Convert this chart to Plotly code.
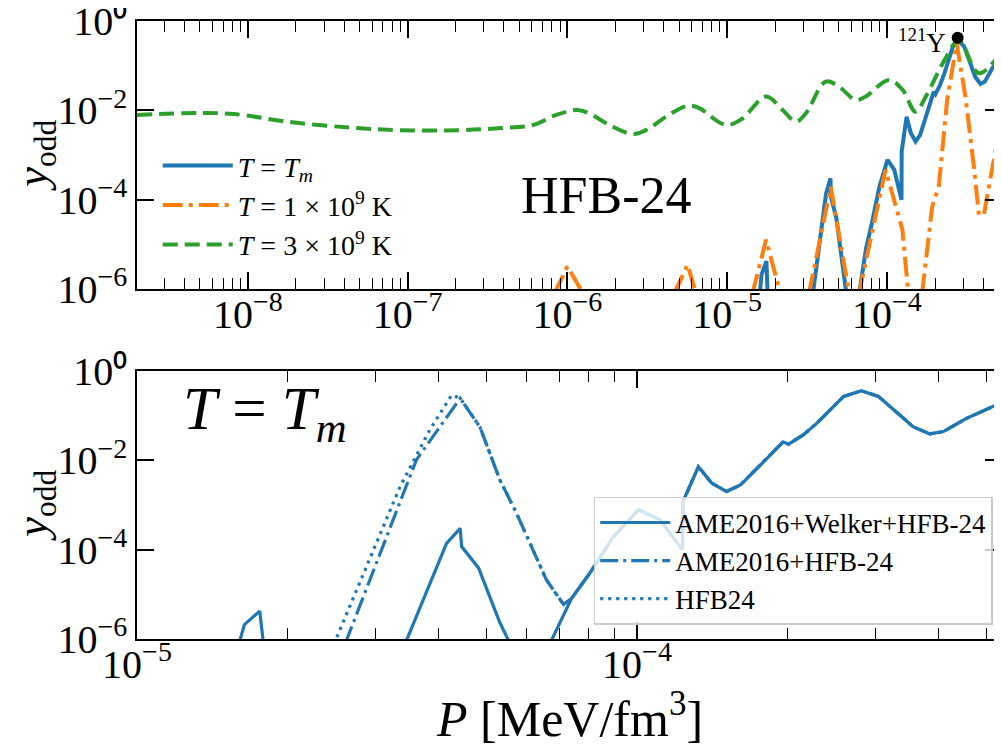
import plotly.graph_objects as go

# ---------------- data ----------------
# T = T_m  (AME2016+Welker+HFB-24), shared by both panels
P_tm = [1.60e-5, 1.64e-5, 1.76e-5, 1.79e-5, None,
        3.44e-5, 4.16e-5, 4.43e-5, 4.46e-5, 4.82e-5, 5.32e-5, 5.57e-5, None,
        6.70e-5, 7.40e-5, 8.05e-5, 8.97e-5, 1.007e-4, 1.11e-4, 1.233e-4, 1.236e-4,
        1.327e-4, 1.41e-4, 1.51e-4, 1.61e-4, 1.73e-4, 1.96e-4, 2.01e-4, 2.15e-4,
        2.29e-4, 2.59e-4, 2.81e-4, 3.04e-4, 3.57e-4, 3.85e-4, 4.10e-4, 4.56e-4, 5.24e-4]
Y_tm = [8e-7, 2.1e-6, 4.2e-6, 8e-7, None,
        8e-7, 1.38e-4, 3.0e-4, 1.17e-4, 3.9e-5, 2.3e-6, 8e-7, None,
        8e-7, 8.1e-6, 3.0e-5, 1.95e-4, 7.8e-4, 4.7e-4, 1.0e-4, 1.2e-3,
        7.2e-3, 3.1e-3, 2.0e-3, 2.8e-3, 6.2e-3, 2.6e-2, 2.3e-2, 3.7e-2,
        6.8e-2, 0.27, 0.36, 0.27, 5.6e-2, 3.9e-2, 4.4e-2, 8.7e-2, 0.174]

# T = 1e9 K
P_t1 = [8.3e-7, 1.0e-6, 1.25e-6, None,
        4.67e-6, 5.65e-6, 6.37e-6, None,
        1.44e-5, 1.75e-5, 2.07e-5, 2.3e-5, None,
        3.25e-5, 4.45e-5, 5.8e-5, None,
        6.68e-5, 9.8e-5, 1.25e-4, 1.36e-4, None,
        1.66e-4, 1.92e-4, 2.11e-4, 2.38e-4, 2.73e-4, 3.10e-4, 3.50e-4, 3.76e-4,
        4.04e-4, 4.79e-4, 5.13e-4]
Y_t1 = [8e-7, 3.2e-6, 8e-7, None,
        8e-7, 3.5e-6, 8e-7, None,
        8e-7, 1.26e-5, 1.35e-6, 5e-7, None,
        8e-7, 1.95e-4, 8e-7, None,
        8e-7, 4.7e-4, 2.1e-5, 8e-7, None,
        8e-7, 7.1e-5, 1.95e-4, 1.7e-2, 0.32, 2.0e-2, 5.5e-4, 4.6e-5,
        4.6e-5, 1.3e-3, 5.1e-3]

# T = 3e9 K
P_t3 = [2.02e-9, 5.0e-9, 8.1e-9, 1.82e-8, 4.4e-8, 8.9e-8, 2.11e-7, 3.76e-7,
        6.07e-7, 8.5e-7, 1.16e-6, 1.37e-6, 1.83e-6, 2.56e-6, 3.1e-6, 4.14e-6,
        5.65e-6, 6.68e-6, 8.9e-6, 1.02e-5, 1.25e-5, 1.75e-5, 2.22e-5, 2.69e-5,
        3.1e-5, 4.14e-5, 5.0e-5, 6.37e-5, 7.36e-5, 1.03e-4, 1.25e-4, 1.51e-4,
        1.75e-4, 2.33e-4, 2.82e-4, 3.76e-4, 5.13e-4]
Y_t3 = [7.9e-3, 8.7e-3, 8.3e-3, 5.5e-3, 4.1e-3, 3.6e-3, 3.6e-3, 4.0e-3,
        4.7e-3, 7.9e-3, 1.02e-2, 8.5e-3, 4.7e-3, 2.95e-3, 3.6e-3, 7.2e-3,
        1.26e-2, 1.12e-2, 5.4e-3, 4.7e-3, 6.6e-3, 2.04e-2, 1.02e-2, 5.6e-3,
        8.5e-3, 4.4e-2, 3.4e-2, 1.70e-2, 2.04e-2, 4.8e-2, 2.9e-2, 9.3e-3,
        2.04e-2, 0.148, 0.37, 6.8e-2, 0.19]

# 121Y marker
P_mark = [2.77e-4]
Y_mark = [0.42]

# AME2016+HFB-24 (own part; merges with T_m curve afterwards)
P_ame = [2.61e-5, 2.97e-5, 3.62e-5, 4.43e-5, 4.85e-5, 5.32e-5, 5.74e-5, 6.59e-5, 7.13e-5]
Y_ame = [8e-7, 3.5e-5, 1.02e-2, 0.245, 5.6e-2, 3.6e-3, 6.6e-4, 2.1e-5, 5.9e-6]

# HFB24 (own part; merges with AME2016+HFB-24 afterwards)
P_hfb = [2.51e-5, 2.88e-5, 3.36e-5, 3.85e-5, 4.26e-5]
Y_hfb = [1.1e-6, 4.2e-5, 2.6e-3, 4.8e-2, 0.29]

# tick labels
top_xticks = [1e-8, 1e-7, 1e-6, 1e-5, 1e-4]
top_xtext = ["10<sup>−8</sup>", "10<sup>−7</sup>", "10<sup>−6</sup>", "10<sup>−5</sup>", "10<sup>−4</sup>"]
bot_xticks = [1e-5, 1e-4]
bot_xtext = ["10<sup>−5</sup>", "10<sup>−4</sup>"]
yticks = [1e-6, 1e-4, 1e-2, 1]
ytext = ["10<sup>−6</sup>", "10<sup>−4</sup>", "10<sup>−2</sup>", "10⁰"]

# ---------------- figure ----------------
BLUE, ORANGE, GREEN = "#1f77b4", "#ff7f0e", "#2ca02c"
FONT = "Liberation Serif"

# tail of T_m curve that the other bottom curves merge into
i_tail = 14
P_ame_full = P_ame + P_tm[i_tail:]
Y_ame_full = Y_ame + Y_tm[i_tail:]
P_hfb_full = P_hfb + P_ame_full[3:]
Y_hfb_full = Y_hfb + Y_ame_full[3:]

fig = go.Figure()

# top panel
fig.add_trace(go.Scatter(x=P_tm, y=Y_tm, mode="lines", name="<i>T</i> = <i>T<sub>m</sub></i>",
                         line=dict(color=BLUE, width=4), xaxis="x", yaxis="y", legend="legend"))
fig.add_trace(go.Scatter(x=P_t1, y=Y_t1, mode="lines", name="<i>T</i> = 1 × 10<sup>9</sup> K",
                         line=dict(color=ORANGE, width=4, dash="20px,6px,4px,6px"),
                         xaxis="x", yaxis="y", legend="legend"))
fig.add_trace(go.Scatter(x=P_t3, y=Y_t3, mode="lines", name="<i>T</i> = 3 × 10<sup>9</sup> K",
                         line=dict(color=GREEN, width=4, dash="15px,7px", shape="spline", smoothing=1.0),
                         xaxis="x", yaxis="y", legend="legend"))
fig.add_trace(go.Scatter(x=P_mark, y=Y_mark, mode="markers", showlegend=False,
                         marker=dict(color="black", size=12), xaxis="x", yaxis="y"))

# bottom panel
fig.add_trace(go.Scatter(x=P_tm, y=Y_tm, mode="lines", name="AME2016+Welker+HFB-24",
                         line=dict(color=BLUE, width=3.2), xaxis="x2", yaxis="y2", legend="legend2"))
fig.add_trace(go.Scatter(x=P_ame_full, y=Y_ame_full, mode="lines", name="AME2016+HFB-24",
                         line=dict(color=BLUE, width=3.2, dash="18px,5px,3px,5px"),
                         xaxis="x2", yaxis="y2", legend="legend2"))
fig.add_trace(go.Scatter(x=P_hfb_full, y=Y_hfb_full, mode="lines", name="HFB24",
                         line=dict(color=BLUE, width=3.2, dash="3px,5px"),
                         xaxis="x2", yaxis="y2", legend="legend2"))

axis_common = dict(type="log", showline=True, linecolor="black", linewidth=1.5, mirror="ticks",
                   ticks="inside", ticklen=17, tickwidth=1.5, tickcolor="black",
                   showgrid=False, zeroline=False, automargin=False, ticklabeloverflow="allow",
                   tickfont=dict(family=FONT, size=40, color="black"))

minor_top = [m * 10.0 ** k for k in range(-9, -3) for m in range(2, 10)]
minor_bot = [m * 10.0 ** k for k in range(-5, -3) for m in range(2, 10)]

ytitle = "<i>y</i><sub>odd</sub>"

# page body adds an 8px margin: figure is sized so it exactly fills the window
fig.update_layout(
    width=994, height=741,
    margin=dict(l=129, r=0, t=13, b=110),
    paper_bgcolor="white", plot_bgcolor="white",
    font=dict(family=FONT, color="black"),
    xaxis=dict(axis_common, domain=[0, 1], anchor="y", range=[-8.694, -3.28],
               tickvals=top_xticks, ticktext=top_xtext, ticklabelstandoff=-11,
               minor=dict(tickvals=minor_top, ticks="inside", ticklen=11, tickwidth=1.2,
                          tickcolor="black", showgrid=False)),
    yaxis=dict(axis_common, domain=[0.5663, 1], anchor="x", range=[-6.0005, 0.0005],
               tickvals=yticks, ticktext=ytext),
    xaxis2=dict(axis_common, domain=[0, 1], anchor="y2", range=[-5, -3.27],
                tickvals=bot_xticks, ticktext=bot_xtext, ticklabelstandoff=-11,
                minor=dict(tickvals=minor_bot, ticks="inside", ticklen=11, tickwidth=1.2,
                           tickcolor="black", showgrid=False)),
    yaxis2=dict(axis_common, domain=[0, 0.4337], anchor="x2", range=[-6.0005, 0.0005],
                tickvals=yticks, ticktext=ytext),
    legend=dict(x=0.024, y=0.806, xanchor="left", yanchor="top", bgcolor="rgba(0,0,0,0)",
                borderwidth=0, font=dict(family=FONT, size=28), itemwidth=70, tracegroupgap=0),
    legend2=dict(x=0.528, y=0.0227, xanchor="left", yanchor="bottom",
                 bgcolor="rgba(255,255,255,0.8)", bordercolor="#cccccc", borderwidth=1.5,
                 font=dict(family=FONT, size=27), itemwidth=70),
    showlegend=True,
    annotations=[
        dict(text="HFB-24", x=-5.756, y=-3.9, xref="x", yref="y", showarrow=False,
             xanchor="center", yanchor="middle", font=dict(family=FONT, size=52)),
        dict(text="<sup>121</sup>Y", x=-3.618, y=-0.45, xref="x", yref="y", showarrow=False,
             xanchor="right", yanchor="middle", font=dict(family=FONT, size=27)),
        dict(text="<i>T</i> = <i>T</i><sub><i>m</i></sub>", x=-4.745, y=-0.95, xref="x2", yref="y2",
             showarrow=False, xanchor="center", yanchor="middle", font=dict(family=FONT, size=61)),
        dict(text=ytitle, x=-0.118, y=0.783, xref="paper", yref="paper", showarrow=False,
             textangle=-90, xanchor="center", yanchor="middle", font=dict(family=FONT, size=45)),
        dict(text=ytitle, x=-0.118, y=0.2168, xref="paper", yref="paper", showarrow=False,
             textangle=-90, xanchor="center", yanchor="middle", font=dict(family=FONT, size=45)),
        dict(text="<i>P</i> [MeV/fm<sup>3</sup>]", x=0.5, y=-0.123, xref="paper", yref="paper",
             showarrow=False, xanchor="center", yanchor="middle", font=dict(family=FONT, size=50)),
    ],
)

fig.write_html("out.html")
